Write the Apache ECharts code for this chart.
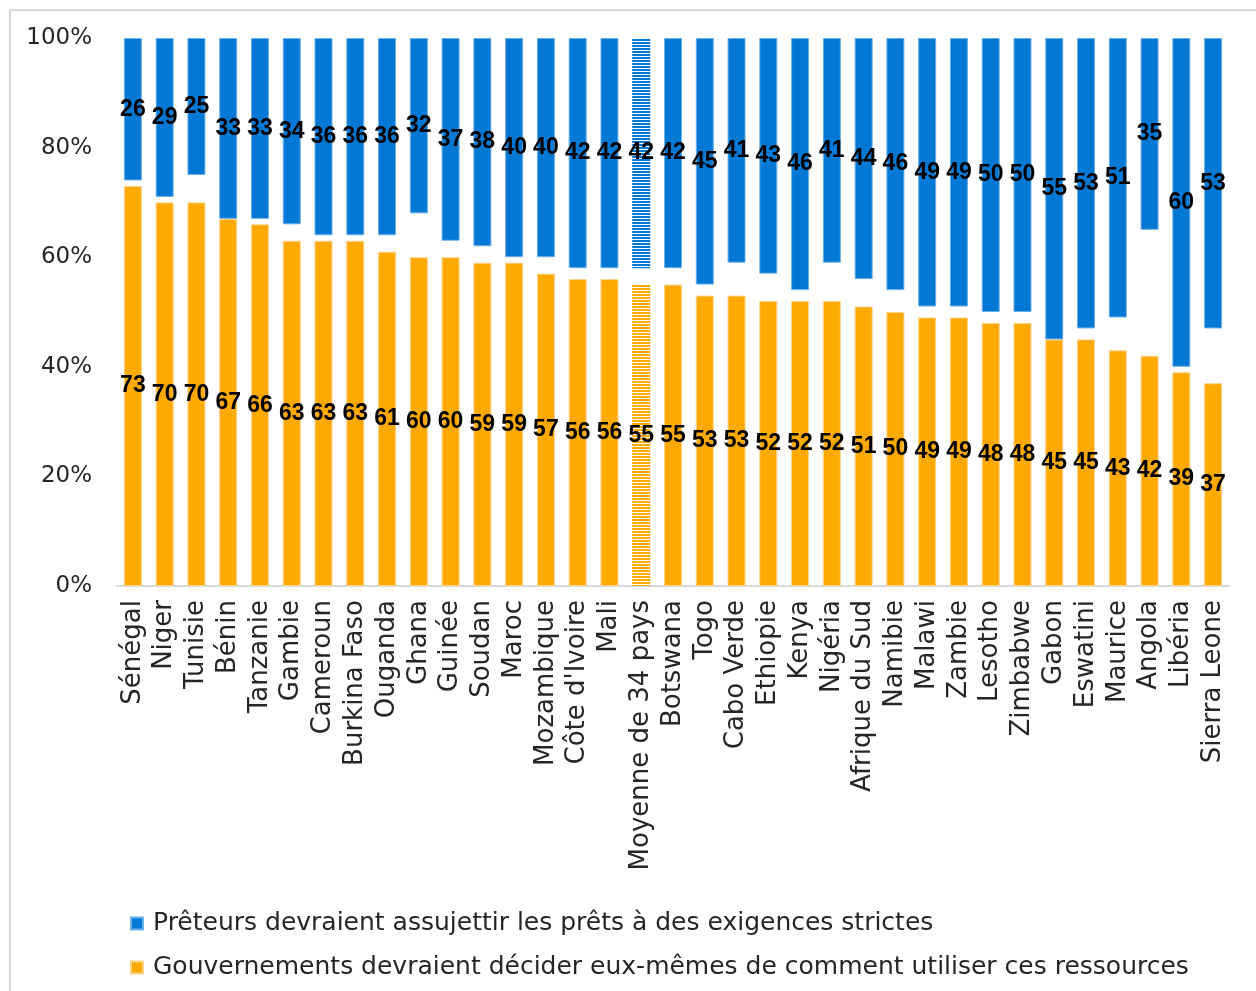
<!DOCTYPE html>
<html>
<head>
<meta charset="utf-8">
<script src="https://cdn.jsdelivr.net/npm/echarts@6/dist/echarts.min.js"></script>
<style>
  html, body { margin: 0; padding: 0; background: #fff; }
  #chart { width: 1256px; height: 991px; }
</style>
</head>
<body>
<div id="chart"></div>
<script>
// categories (left to right)
const countries = ['Sénégal', 'Niger', 'Tunisie', 'Bénin', 'Tanzanie', 'Gambie', 'Cameroun', 'Burkina Faso',
  'Ouganda', 'Ghana', 'Guinée', 'Soudan', 'Maroc', 'Mozambique', "Côte d'Ivoire", 'Mali', 'Moyenne de 34 pays',
  'Botswana', 'Togo', 'Cabo Verde', 'Ethiopie', 'Kenya', 'Nigéria', 'Afrique du Sud', 'Namibie', 'Malawi',
  'Zambie', 'Lesotho', 'Zimbabwe', 'Gabon', 'Eswatini', 'Maurice', 'Angola', 'Libéria', 'Sierra Leone']

// Gouvernements devraient décider eux-mêmes... (bottom, orange)
const gouvernements = [73, 70, 70, 67, 66, 63, 63, 63, 61, 60, 60, 59, 59, 57, 56, 56, 55,
  55, 53, 53, 52, 52, 52, 51, 50, 49, 49, 48, 48, 45, 45, 43, 42, 39, 37]

// Prêteurs devraient assujettir... (top, blue)
const preteurs = [26, 29, 25, 33, 33, 34, 36, 36, 36, 32, 37, 38, 40, 40, 42, 42, 42,
  42, 45, 41, 43, 46, 41, 44, 46, 49, 49, 50, 50, 55, 53, 51, 35, 60, 53]

const yTicks = [0, 20, 40, 60, 80, 100]

const AVG = 'Moyenne de 34 pays'
const BLUE = '#0478D5'
const ORANGE = '#FFA903'
const FONT = '"DejaVu Sans", sans-serif'

// striped fill for the average bar
function stripes(color) {
  const c = document.createElement('canvas')
  c.width = 4
  c.height = 3
  const ctx = c.getContext('2d')
  ctx.fillStyle = '#fff'
  ctx.fillRect(0, 0, 4, 3)
  ctx.fillStyle = color
  ctx.fillRect(0, 0, 4, 2)
  return { image: c, repeat: 'repeat' }
}

const gap = gouvernements.map((g, i) => 100 - g - preteurs[i])

function styled(values, color) {
  return values.map((v, i) => {
    if (countries[i] !== AVG) return v
    return { value: v, itemStyle: { color: stripes(color), borderWidth: 0 } }
  })
}

const label = {
  show: true,
  position: 'inside',
  color: '#000',
  fontFamily: '"Liberation Sans", Arial, sans-serif',
  fontWeight: 'bold',
  fontSize: 23
}

const chart = echarts.init(document.getElementById('chart'))
chart.setOption({
  animation: false,
  backgroundColor: '#fff',
  graphic: [{
    type: 'rect',
    shape: { x: 10, y: 10, width: 1250, height: 990 },
    style: { fill: 'none', stroke: '#d9d9d9', lineWidth: 2 },
    silent: true
  }],
  grid: { left: 117, right: 27, top: 38, bottom: 405 },
  legend: {
    orient: 'vertical',
    left: 125,
    top: 906,
    itemWidth: 12,
    itemHeight: 12,
    itemGap: 19,
    icon: 'rect',
    textStyle: { fontFamily: FONT, fontSize: 25, color: '#262626', padding: [0, 0, 0, 5] },
    data: ['Prêteurs devraient assujettir les prêts à des exigences strictes',
      'Gouvernements devraient décider eux-mêmes de comment utiliser ces ressources']
  },
  xAxis: {
    type: 'category',
    data: countries,
    axisLine: { lineStyle: { color: '#d9d9d9', width: 2 } },
    axisTick: { show: false },
    axisLabel: {
      rotate: 90,
      interval: 0,
      margin: 14,
      color: '#262626',
      fontFamily: FONT,
      fontSize: 26
    }
  },
  yAxis: {
    type: 'value',
    min: yTicks[0],
    max: yTicks[yTicks.length - 1],
    interval: 20,
    splitLine: { show: false },
    axisLine: { show: false },
    axisTick: { show: false },
    axisLabel: {
      formatter: '{value}%',
      margin: 25,
      color: '#262626',
      fontFamily: FONT,
      fontSize: 23
    }
  },
  series: [
    {
      name: 'Gouvernements devraient décider eux-mêmes de comment utiliser ces ressources',
      type: 'bar',
      stack: 'total',
      barWidth: 18,
      itemStyle: { color: ORANGE, borderColor: '#FDD28A', borderWidth: 1 },
      label: label,
      data: styled(gouvernements, ORANGE)
    },
    {
      name: 'gap',
      type: 'bar',
      stack: 'total',
      silent: true,
      itemStyle: { color: 'transparent' },
      data: gap
    },
    {
      name: 'Prêteurs devraient assujettir les prêts à des exigences strictes',
      type: 'bar',
      stack: 'total',
      itemStyle: { color: BLUE, borderColor: '#6AAFE8', borderWidth: 1 },
      label: label,
      data: styled(preteurs, BLUE)
    }
  ]
})
</script>
</body>
</html>
